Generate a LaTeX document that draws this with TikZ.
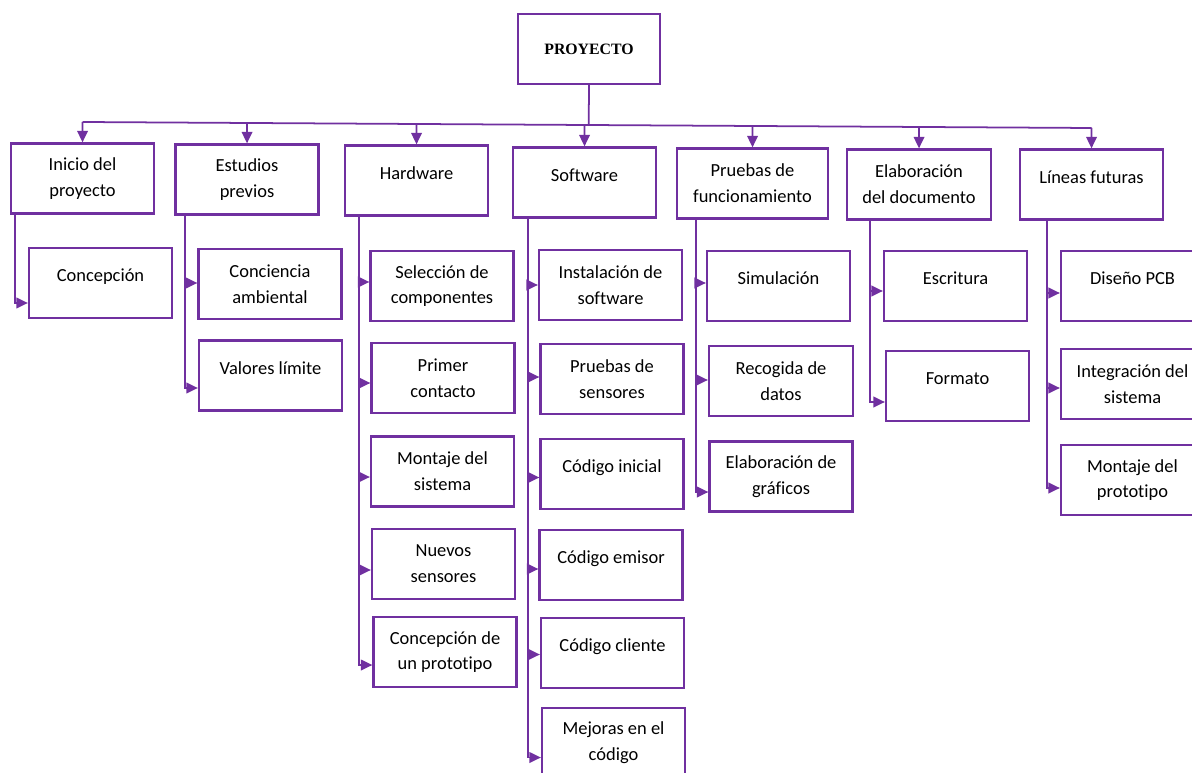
\documentclass[tikz,border=0pt]{standalone}
\usepackage{fontspec}
\setmainfont{Carlito}[Ligatures={NoCommon}]
\newfontfamily\titlefont{Liberation Serif}
\usetikzlibrary{calc,arrows.meta}
\definecolor{wbspurple}{HTML}{7030A0}

\begin{document}
\begin{tikzpicture}[
    x=0.02cm, y=-0.02cm,
    font=\fontsize{10.5}{14.7}\selectfont,
    box/.style={draw=wbspurple, line width=1.3pt, minimum width=2.86cm,
      minimum height=1.4cm, inner sep=0pt, align=center, text=black},
    oneline/.style={text height=7pt, text depth=8.5pt},
    conn/.style={draw=wbspurple, line width=1pt},
    arr/.style={conn, -{Triangle[length=6.5pt,width=6pt]}}
  ]
  \useasboundingbox (0,0) rectangle (1192,773);
  \clip (0,0) rectangle (1192,773);

  % root
  \node[box, minimum width=2.84cm, font=\titlefont\bfseries\fontsize{9}{11}\selectfont]
    (proj) at (589,49) {PROYECTO};

  % first level
  \node[box] (ini) at (82.5,178.5) {Inicio del\\proyecto};
  \node[box] (est) at (247,179.5) {Estudios\\previos};
  \node[box, oneline] (hw) at (416.5,180.5) {Hardware};
  \node[box, oneline] (sw) at (584.5,182.5) {Software};
  \node[box, minimum width=3.02cm] (pru) at (752.5,183.5) {Pruebas de\\funcionamiento};
  \node[box, minimum width=2.88cm] (eld) at (919,184.5) {Elaboración\\del documento};
  \node[box, oneline] (lin) at (1091.5,184.5) {Líneas futuras};

  % second level
  \node[box, oneline] (conc) at (100.5,283) {Concepción};
  \node[box] (conca) at (270,284) {Conciencia\\ambiental};
  \node[box, oneline] (val) at (270.5,375.5) {Valores límite};

  \node[box] (sel) at (442,286) {Selección de\\componentes};
  \node[box] (pri) at (443,378) {Primer\\contacto};
  \node[box] (mon) at (442.5,471.5) {Montaje del\\sistema};
  \node[box] (nue) at (443.5,564) {Nuevos\\sensores};
  \node[box] (cpr) at (445,652) {Concepción de\\un prototipo};

  \node[box] (ins) at (610.5,285) {Instalación de\\software};
  \node[box] (psen) at (612,379) {Pruebas de\\sensores};
  \node[box, oneline] (cini) at (612,474) {Código inicial};
  \node[box, oneline] (cemi) at (611,565) {Código emisor};
  \node[box, oneline] (ccli) at (612.5,653) {Código cliente};
  \node[box] (mej) at (613.5,743) {Mejoras en el\\código};

  \node[box, oneline] (sim) at (778.5,286) {Simulación};
  \node[box, minimum width=2.88cm] (rec) at (781,381) {Recogida de\\datos};
  \node[box] (gra) at (781,476.5) {Elaboración de\\gráficos};

  \node[box, oneline] (esc) at (955.5,286) {Escritura};
  \node[box, oneline] (for) at (957.5,386) {Formato};

  \node[box, oneline] (dis) at (1132.5,286) {Diseño PCB};
  \node[box] (int) at (1132.5,384) {Integración del\\sistema};
  \node[box] (mpr) at (1132.5,480) {Montaje del\\prototipo};

  % bus under the root
  \coordinate (busL) at (82.5,122);
  \coordinate (busR) at (1091.5,128);
  \draw[conn] (busL) -- (busR);
  \draw[conn] (proj.south) -- ($(busL)!(proj.south)!(busR)$);
  \foreach \n in {ini,est,hw,sw,pru,eld,lin}
    \draw[arr] ($(busL)!(\n.north)!(busR)$) -- (\n.north);

  % branches
  \foreach \c/\dy in {conc/20}
    \draw[arr] ($(ini.south west)+(5,0)$) |- ($(\c.west)+(0,\dy)$);
  \foreach \c/\dy in {conca/-1, val/12.5}
    \draw[arr] ($(est.south west)+(11,0)$) |- ($(\c.west)+(0,\dy)$);
  \foreach \c/\dy in {sel/-4, pri/5, mon/5.5, nue/6, cpr/13}
    \draw[arr] ($(hw.south west)+(15,0)$) |- ($(\c.west)+(0,\dy)$);
  \foreach \c/\dy in {ins/0, psen/-2, cini/3.5, cemi/4, ccli/1.5, mej/14.5}
    \draw[arr] ($(sw.south west)+(16,0)$) |- ($(\c.west)+(0,\dy)$);
  \foreach \c/\dy in {sim/-3, rec/-1, gra/15.5}
    \draw[arr] ($(pru.south west)+(20,0)$) |- ($(\c.west)+(0,\dy)$);
  \foreach \c/\dy in {esc/5, for/16}
    \draw[arr] ($(eld.south west)+(24,0)$) |- ($(\c.west)+(0,\dy)$);
  \foreach \c/\dy in {dis/7, int/4, mpr/8}
    \draw[arr] ($(lin.south west)+(28,0)$) |- ($(\c.west)+(0,\dy)$);
\end{tikzpicture}
\end{document}
